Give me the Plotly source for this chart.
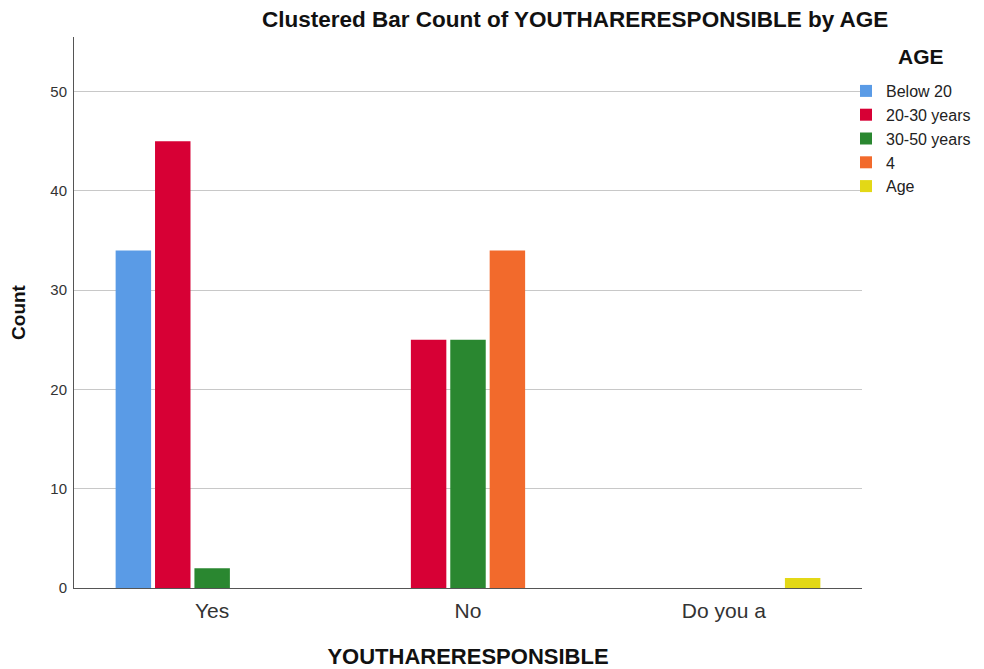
import plotly.graph_objects as go

categories = ["Yes", "No", "Do you a"]
age_groups = ["Below 20", "20-30 years", "30-50 years", "4", "Age"]
below_20 = [34, None, None]
years_20_30 = [45, 25, None]
years_30_50 = [2, 25, None]
group_4 = [None, 34, None]
group_age = [None, None, 1]

colors = ["#5A9BE6", "#D70035", "#2A8730", "#F26A2C", "#E3D816"]
series = [below_20, years_20_30, years_30_50, group_4, group_age]

FONT = "Arial, Liberation Sans, sans-serif"

# the page puts the figure 8px in from the top-left corner
W, H = 976, 661
L, R, T, B = 66, 122, 29, 81
PW, PH = W - L - R, H - T - B

fig = go.Figure()
for name, values, color in zip(age_groups, series, colors):
    fig.add_trace(go.Bar(
        x=categories,
        y=values,
        name=name,
        marker={"color": color, "line": {"width": 0}},
    ))

fig.update_layout(
    width=W,
    height=H,
    barmode="group",
    bargap=0.23,
    bargroupgap=0.1,
    paper_bgcolor="white",
    plot_bgcolor="white",
    margin={"l": L, "r": R, "t": T, "b": B, "autoexpand": False},
    font={"family": FONT, "color": "#222"},
    showlegend=True,
    legend={
        "x": (838 - L) / PW,
        "y": 1 - (66 - T) / PH,
        "xanchor": "left",
        "yanchor": "top",
        "font": {"size": 16, "color": "#222"},
        "tracegroupgap": 0,
        "itemwidth": 30,
        "bgcolor": "rgba(0,0,0,0)",
    },
    annotations=[
        {
            "text": "<b>Clustered Bar Count of YOUTHARERESPONSIBLE by AGE</b>",
            "xref": "paper", "yref": "paper",
            "x": (567 - L) / PW, "xanchor": "center",
            "y": 1 - (11 - T) / PH, "yanchor": "middle",
            "showarrow": False,
            "font": {"size": 22.5, "color": "#111"},
        },
        {
            "text": "<b>AGE</b>",
            "xref": "paper", "yref": "paper",
            "x": (913 - L) / PW, "xanchor": "center",
            "y": 1 - (49 - T) / PH, "yanchor": "middle",
            "showarrow": False,
            "font": {"size": 21, "color": "#111"},
        },
    ],
)

fig.update_xaxes(
    range=[-0.54, 2.54],
    showline=True,
    linecolor="#555",
    linewidth=1,
    showgrid=False,
    ticks="",
    ticklabelstandoff=4,
    tickfont={"size": 21, "color": "#333"},
    title={"text": "<b>YOUTHARERESPONSIBLE</b>", "font": {"size": 22, "color": "#111"}, "standoff": 30},
    automargin=False,
)
fig.update_yaxes(
    range=[0, 55.5],
    dtick=10,
    showline=True,
    linecolor="#555",
    linewidth=1,
    showgrid=True,
    gridcolor="#c8c8c8",
    gridwidth=1,
    zeroline=False,
    ticks="",
    ticklabelstandoff=3,
    tickfont={"size": 15, "color": "#333"},
    title={"text": "<b>Count</b>", "font": {"size": 19, "color": "#111"}, "standoff": 28},
    automargin=False,
)

fig.write_html("out.html")
